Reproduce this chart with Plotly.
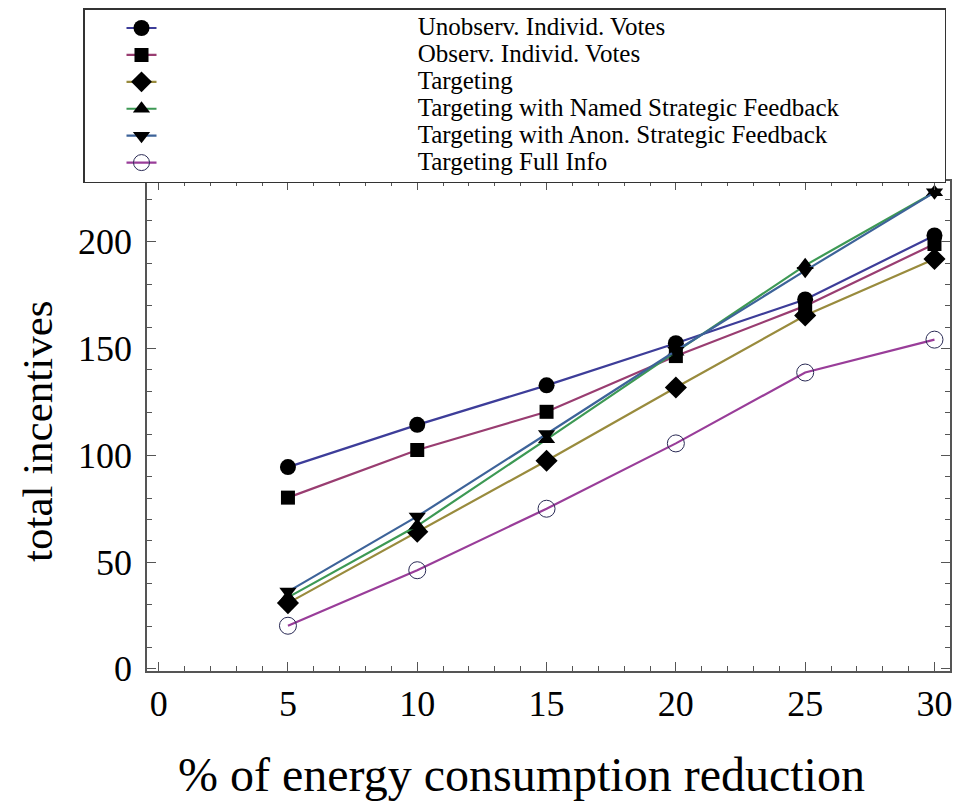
import plotly.graph_objects as go

x_vals = [5, 10, 15, 20, 25, 30]

unobserv_votes = [94.5, 114.3, 132.8, 152.5, 173.0, 203.0]
observ_votes = [80.2, 102.5, 120.4, 146.5, 170.0, 199.0]
targeting = [30.8, 64.2, 97.5, 131.8, 165.5, 192.0]
targeting_named = [33.5, 67.0, 107.5, 148.5, 189.0, 223.2]
targeting_anon = [36.2, 71.4, 110.0, 149.0, 186.5, 223.2]
targeting_full = [20.2, 46.2, 75.0, 105.6, 138.8, 154.2]

series_names = [
    "Unobserv. Individ. Votes",
    "Observ. Individ. Votes",
    "Targeting",
    "Targeting with Named Strategic Feedback",
    "Targeting with Anon. Strategic Feedback",
    "Targeting Full Info",
]
series_values = [unobserv_votes, observ_votes, targeting, targeting_named, targeting_anon, targeting_full]
line_colors = ["#3d3d99", "#993d71", "#998b3d", "#3d9954", "#3d6399", "#993d99"]
symbols = ["circle", "square", "diamond", "triangle-up", "triangle-down", "circle-open"]
sizes = [16, 14, 17, 15, 15, 17]

x_ticks = [0, 5, 10, 15, 20, 25, 30]
y_ticks = [0, 50, 100, 150, 200]

x_title = "% of energy consumption reduction"
y_title = "total incentives"

FONT = "Liberation Serif, Times New Roman, serif"
NB = "\u00a0"


def legend_label(name):
    return '<span style="font-size:25px">' + NB * 41 + name + NB * 16 + "</span>"


fig = go.Figure()
for name, vals, col, sym, sz in zip(series_names, series_values, line_colors, symbols, sizes):
    if sym == "circle-open":
        marker = dict(symbol=sym, size=sz, color="#2a2a55", line=dict(width=1, color="#2a2a55"))
    else:
        marker = dict(symbol=sym, size=sz, color="black", line=dict(width=0))
    fig.add_trace(go.Scatter(
        x=x_vals, y=vals, name=legend_label(name), mode="lines+markers",
        line=dict(color=col, width=2.2), marker=marker,
    ))

axis_common = dict(
    showline=True, linecolor="#555555", linewidth=1.5, mirror="allticks",
    ticks="inside", tickcolor="#555555", ticklen=9, tickwidth=1.2,
    showgrid=False, zeroline=False,
    tickfont=dict(family=FONT, size=36, color="black"),
)

fig.update_xaxes(
    range=[-0.45, 30.6], tickvals=x_ticks,
    minor=dict(dtick=1, ticks="inside", ticklen=5, tickcolor="#555555", tick0=0, showgrid=False),
    **axis_common,
)
fig.update_yaxes(
    range=[-1, 228.5], tickvals=y_ticks, ticklabelstandoff=6,
    minor=dict(dtick=10, ticks="inside", ticklen=5, tickcolor="#555555", tick0=0, showgrid=False),
    **axis_common,
)

fig.add_annotation(
    text=x_title, xref="paper", yref="paper", x=0.4667, y=0,
    xanchor="center", yanchor="middle", yshift=-103, showarrow=False,
    font=dict(family=FONT, size=48, color="black"),
)
fig.add_annotation(
    text=y_title, xref="paper", yref="paper", x=-0.1356, y=0.49,
    xanchor="center", yanchor="middle", textangle=-90, showarrow=False,
    font=dict(family=FONT, size=43, color="black"),
)

fig.update_layout(
    width=960, height=806,
    margin=dict(l=139, r=17.5, t=173, b=142.5, autoexpand=False),
    paper_bgcolor="white", plot_bgcolor="white",
    showlegend=True,
    legend=dict(
        x=-0.0797, y=1.353, xanchor="left", yanchor="top",
        bordercolor="#333333", borderwidth=1.5, bgcolor="white",
        font=dict(family=FONT, size=18.4, color="black"),
        indentation=37, tracegroupgap=0,
    ),
)

fig.write_html("out.html")
